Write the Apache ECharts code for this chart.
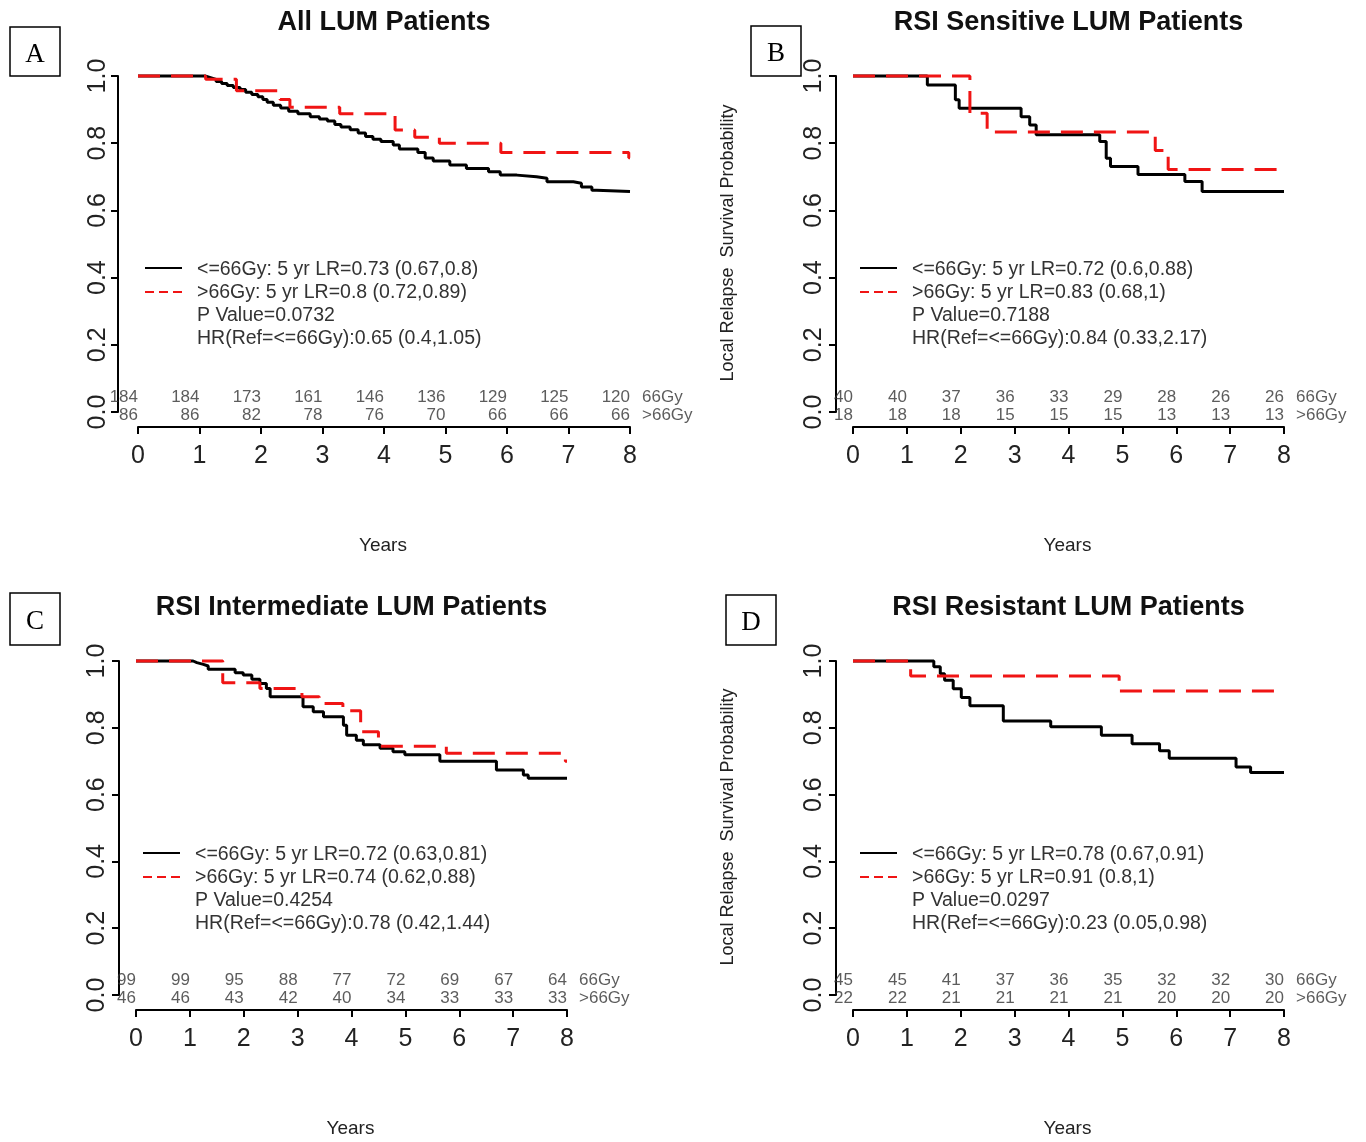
<!DOCTYPE html>
<html><head><meta charset="utf-8">
<script src="https://cdn.jsdelivr.net/npm/echarts@6/dist/echarts.min.js"></script>
<style>html,body{margin:0;padding:0;background:#fff}#c{width:1366px;height:1142px}</style>
</head><body><div id="c"></div>
<script>
// ---------- DATA ----------
const xTicks = [0, 1, 2, 3, 4, 5, 6, 7, 8];
const panelTitles = ['All LUM Patients', 'RSI Sensitive LUM Patients', 'RSI Intermediate LUM Patients', 'RSI Resistant LUM Patients'];
const panelLetters = ['A', 'B', 'C', 'D'];
const groupLabels = ['66Gy', '>66Gy'];

// Panel A (All)
const aLowTime = [0, 1.09, 1.18, 1.27, 1.36, 1.45, 1.55, 1.66, 1.75, 1.85, 1.95, 2.03, 2.10, 2.20, 2.32, 2.45, 2.60, 2.80, 2.95, 3.08, 3.20, 3.30, 3.45, 3.58, 3.70, 3.82, 3.95, 4.15, 4.25, 4.55, 4.67, 4.80, 5.07, 5.34, 5.70, 5.89, 6.16, 6.48, 6.65, 7.08, 7.21, 7.38, 7.46, 8.0];
const aLowSurv = [1.0, 0.995, 0.99, 0.984, 0.978, 0.972, 0.966, 0.96, 0.952, 0.945, 0.938, 0.93, 0.922, 0.913, 0.905, 0.895, 0.888, 0.879, 0.872, 0.866, 0.856, 0.848, 0.84, 0.83, 0.82, 0.812, 0.805, 0.795, 0.783, 0.772, 0.756, 0.747, 0.735, 0.725, 0.715, 0.705, 0.70, 0.696, 0.685, 0.681, 0.67, 0.66, 0.656, 0.656];
const aHighTime = [0, 1.10, 1.60, 2.31, 2.47, 3.28, 4.18, 4.50, 4.90, 5.90, 7.98, 8.0];
const aHighSurv = [1.0, 0.99, 0.956, 0.93, 0.907, 0.888, 0.839, 0.818, 0.80, 0.772, 0.757, 0.757];
const aRiskLow = [184, 184, 173, 161, 146, 136, 129, 125, 120];
const aRiskHigh = [86, 86, 82, 78, 76, 70, 66, 66, 66];
const aLegend = ['<=66Gy: 5 yr LR=0.73 (0.67,0.8)', '>66Gy: 5 yr LR=0.8 (0.72,0.89)', 'P Value=0.0732', 'HR(Ref=<=66Gy):0.65 (0.4,1.05)'];

// Panel B (Sensitive)
const bLowTime = [0, 1.38, 1.90, 1.97, 3.12, 3.28, 3.40, 4.58, 4.70, 4.78, 5.29, 6.16, 6.48, 8.0];
const bLowSurv = [1.0, 0.973, 0.929, 0.904, 0.879, 0.854, 0.825, 0.805, 0.755, 0.731, 0.707, 0.686, 0.656, 0.656];
const bHighTime = [0, 2.17, 2.49, 5.61, 5.85, 8.0];
const bHighSurv = [1.0, 0.889, 0.833, 0.778, 0.722, 0.722];
const bRiskLow = [40, 40, 37, 36, 33, 29, 28, 26, 26];
const bRiskHigh = [18, 18, 18, 15, 15, 15, 13, 13, 13];
const bLegend = ['<=66Gy: 5 yr LR=0.72 (0.6,0.88)', '>66Gy: 5 yr LR=0.83 (0.68,1)', 'P Value=0.7188', 'HR(Ref=<=66Gy):0.84 (0.33,2.17)'];

// Panel C (Intermediate)
const cLowTime = [0, 1.06, 1.13, 1.25, 1.34, 1.84, 1.99, 2.15, 2.30, 2.42, 2.49, 3.10, 3.29, 3.48, 3.85, 3.91, 4.09, 4.22, 4.53, 4.77, 4.99, 5.64, 6.69, 7.19, 7.28, 8.0];
const cLowSurv = [1.0, 0.995, 0.99, 0.985, 0.975, 0.965, 0.958, 0.945, 0.933, 0.918, 0.893, 0.863, 0.848, 0.833, 0.808, 0.778, 0.763, 0.749, 0.739, 0.728, 0.719, 0.70, 0.674, 0.659, 0.649, 0.649];
const cHighTime = [0, 1.61, 2.30, 3.08, 3.40, 3.84, 4.17, 4.50, 5.76, 7.97, 8.0];
const cHighSurv = [1.0, 0.935, 0.918, 0.893, 0.873, 0.851, 0.788, 0.745, 0.724, 0.70, 0.70];
const cRiskLow = [99, 99, 95, 88, 77, 72, 69, 67, 64];
const cRiskHigh = [46, 46, 43, 42, 40, 34, 33, 33, 33];
const cLegend = ['<=66Gy: 5 yr LR=0.72 (0.63,0.81)', '>66Gy: 5 yr LR=0.74 (0.62,0.88)', 'P Value=0.4254', 'HR(Ref=<=66Gy):0.78 (0.42,1.44)'];

// Panel D (Resistant)
const dLowTime = [0, 1.50, 1.62, 1.70, 1.86, 2.01, 2.17, 2.79, 3.67, 4.61, 5.18, 5.69, 5.87, 7.11, 7.38, 8.0];
const dLowSurv = [1.0, 0.983, 0.962, 0.942, 0.917, 0.891, 0.866, 0.82, 0.803, 0.778, 0.752, 0.731, 0.709, 0.683, 0.666, 0.666];
const dHighTime = [0, 1.07, 4.94, 8.0];
const dHighSurv = [1.0, 0.955, 0.91, 0.91];
const dRiskLow = [45, 45, 41, 37, 36, 35, 32, 32, 30];
const dRiskHigh = [22, 22, 21, 21, 21, 21, 20, 20, 20];
const dLegend = ['<=66Gy: 5 yr LR=0.78 (0.67,0.91)', '>66Gy: 5 yr LR=0.91 (0.8,1)', 'P Value=0.0297', 'HR(Ref=<=66Gy):0.23 (0.05,0.98)'];

// ---------- LAYOUT ----------
const FONT = '"Liberation Sans", Arial, Helvetica, sans-serif';
const RED = '#f01414';
const panels = [
  {lt: aLowTime, ls: aLowSurv, ht: aHighTime, hs: aHighSurv, rl: aRiskLow, rh: aRiskHigh, leg: aLegend,
   grid: {left: 138, top: 76, width: 492, height: 336}, xOff: 15, yOff: 20, yMargin: 7, box: [10, 27, 50, 49], yTitle: false},
  {lt: bLowTime, ls: bLowSurv, ht: bHighTime, hs: bHighSurv, rl: bRiskLow, rh: bRiskHigh, leg: bLegend,
   grid: {left: 853, top: 76, width: 431, height: 336}, xOff: 15, yOff: 17, yMargin: 9, box: [751, 26, 50, 50], yTitle: true},
  {lt: cLowTime, ls: cLowSurv, ht: cHighTime, hs: cHighSurv, rl: cRiskLow, rh: cRiskHigh, leg: cLegend,
   grid: {left: 136, top: 661, width: 431, height: 334}, xOff: 15, yOff: 17, yMargin: 9, box: [10, 593, 50, 52], yTitle: false},
  {lt: dLowTime, ls: dLowSurv, ht: dHighTime, hs: dHighSurv, rl: dRiskLow, rh: dRiskHigh, leg: dLegend,
   grid: {left: 853, top: 661, width: 431, height: 334}, xOff: 15, yOff: 17, yMargin: 9, box: [726, 595, 50, 50], yTitle: true}
];
const ROW1 = 0.043, ROW2 = -0.011;

const grids = [], xAxes = [], yAxes = [], series = [], graphics = [];
panels.forEach((p, i) => {
  grids.push(Object.assign({containLabel: false}, p.grid));
  xAxes.push({gridIndex: i, type: 'value', min: 0, max: 8, interval: 1, offset: p.xOff,
    axisLine: {show: true, onZero: false, lineStyle: {color: '#000', width: 2}},
    axisTick: {show: true, length: 7, lineStyle: {color: '#000', width: 2}},
    axisLabel: {fontSize: 25, margin: 17, color: '#222', fontFamily: FONT},
    splitLine: {show: false}});
  yAxes.push({gridIndex: i, type: 'value', min: 0, max: 1, interval: 0.2, offset: p.yOff,
    axisLine: {show: true, onZero: false, lineStyle: {color: '#000', width: 2}},
    axisTick: {show: true, length: 7, lineStyle: {color: '#000', width: 2}},
    axisLabel: {fontSize: 25, margin: p.yMargin, color: '#222', fontFamily: FONT, rotate: 90,
      formatter: v => v.toFixed(1)},
    splitLine: {show: false}});
  series.push({type: 'line', xAxisIndex: i, yAxisIndex: i, step: 'end', showSymbol: false, clip: false,
    data: p.lt.map((t, k) => [t, p.ls[k]]), lineStyle: {color: '#000', width: 3}, z: 3, silent: true});
  series.push({type: 'line', xAxisIndex: i, yAxisIndex: i, step: 'end', showSymbol: false, clip: false,
    data: p.ht.map((t, k) => [t, p.hs[k]]), lineStyle: {color: RED, width: 3, type: [22, 11]}, z: 4, silent: true});
  const riskLabel = (arr, y) => ({type: 'scatter', xAxisIndex: i, yAxisIndex: i, symbolSize: 0, clip: false, silent: true,
    data: xTicks.map((t, k) => [t, y, arr[k]]),
    label: {show: true, position: 'left', distance: 0, formatter: q => q.value[2], fontSize: 17,
      color: '#333', fontFamily: FONT}});
  series.push(riskLabel(p.rl, ROW1));
  series.push(riskLabel(p.rh, ROW2));
  series.push({type: 'scatter', xAxisIndex: i, yAxisIndex: i, symbolSize: 0, clip: false, silent: true,
    data: [[8, ROW1, groupLabels[0]], [8, ROW2, groupLabels[1]]],
    label: {show: true, position: 'right', distance: 12, formatter: q => q.value[2], fontSize: 17,
      color: '#333', fontFamily: FONT}});

  const g = p.grid;
  const plotL = g.left - p.yOff, plotR = g.left + g.width + p.yOff;
  const cx = (plotL + plotR) / 2;
  // title
  graphics.push({type: 'text', x: cx, y: g.top - 53, style: {text: panelTitles[i], fill: '#111',
    font: 'bold 27px ' + FONT, textAlign: 'center', textVerticalAlign: 'middle'}});
  // letter box
  const b = p.box;
  graphics.push({type: 'rect', shape: {x: b[0], y: b[1], width: b[2], height: b[3]},
    style: {fill: '#fff', stroke: '#000', lineWidth: 1.5}, z: 10});
  graphics.push({type: 'text', x: b[0] + b[2] / 2, y: b[1] + b[3] / 2 + 3, z: 11, style: {text: panelLetters[i], fill: '#000',
    font: '27px "Liberation Serif", "Times New Roman", serif', textAlign: 'center', textVerticalAlign: 'middle'}});
  // Years
  graphics.push({type: 'text', x: cx - 1, y: g.top + g.height + 134, style: {text: 'Years', fill: '#222',
    font: '19px ' + FONT, textAlign: 'center', textVerticalAlign: 'middle'}});
  if (p.yTitle) {
    graphics.push({type: 'text', x: 728, y: g.top + g.height / 2 - 1, rotation: Math.PI / 2,
      style: {text: 'Local Relapse  Survival Probability', fill: '#222', font: '18px ' + FONT,
        textAlign: 'center', textVerticalAlign: 'middle'}});
  }
  // legend
  const lx = g.left + 7, ly = g.top + 192;
  graphics.push({type: 'line', shape: {x1: lx, y1: ly, x2: lx + 37, y2: ly}, style: {stroke: '#000', lineWidth: 2}});
  graphics.push({type: 'line', shape: {x1: lx, y1: ly + 24, x2: lx + 37, y2: ly + 24},
    style: {stroke: RED, lineWidth: 2, lineDash: [9, 5]}});
  p.leg.forEach((t, k) => {
    graphics.push({type: 'text', x: lx + 52, y: ly + 2 + k * 23, style: {text: t, fill: '#333',
      font: '19.5px ' + FONT, textVerticalAlign: 'middle'}});
  });
});

const chart = echarts.init(document.getElementById('c'), null, {renderer: 'canvas'});
chart.setOption({animation: false, backgroundColor: '#fff', grid: grids, xAxis: xAxes, yAxis: yAxes,
  series: series, graphic: graphics});
</script></body></html>
